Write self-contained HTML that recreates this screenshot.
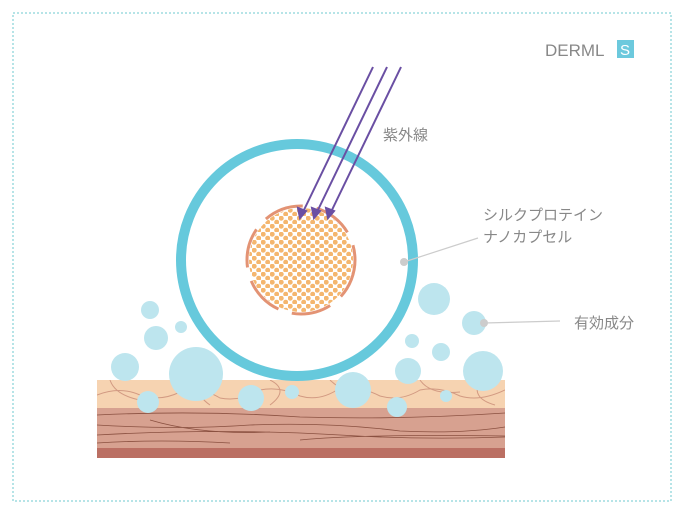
<!DOCTYPE html><html><head><meta charset="utf-8"><style>body{margin:0;background:#fff}svg{display:block}</style></head><body>
<svg width="685" height="516" viewBox="0 0 685 516" xmlns="http://www.w3.org/2000/svg" font-family="Liberation Sans, Noto Sans CJK JP, sans-serif">
<defs><pattern id="d" width="9" height="8" patternUnits="userSpaceOnUse"><circle cx="2.2" cy="2.2" r="2.5" fill="#f4b66e"/><circle cx="6.7" cy="6.2" r="2.5" fill="#f4b66e"/></pattern>
<clipPath id="t"><rect x="97" y="380" width="408" height="28"/></clipPath></defs>
<rect x="13" y="13" width="658" height="488" fill="none" stroke="#6cc9cf" stroke-dasharray="2 2"/>
<text x="545" y="56" font-size="17" fill="#888">DERML</text><rect x="617" y="40" width="17" height="18" fill="#6cc9dd"/><text x="620" y="55" font-size="15" fill="#fff">S</text>
<rect x="97" y="380" width="408" height="28" fill="#f6d3b1"/>
<rect x="97" y="408" width="408" height="40" fill="#d7a190"/>
<rect x="97" y="448" width="408" height="10" fill="#bb6f63"/>
<g fill="none" stroke="#d29a82" stroke-width="1" clip-path="url(#t)"><path d="M97 395 Q120 386 140 395 Q160 402 180 392 Q200 386 220 398 Q240 402 260 390 Q280 386 300 396 Q320 402 340 388 Q360 386 380 396 Q400 402 420 390 Q440 386 460 396 Q480 402 505 390"/><path d="M110 380 Q115 395 140 400 M200 380 Q195 395 210 405 M270 380 Q290 390 270 405 M330 380 Q345 395 370 392 M420 380 Q430 395 460 392 M480 380 Q470 398 495 405"/></g>
<g fill="none" stroke="#8a5040" stroke-width="0.8"><path d="M97 415 Q200 410 300 417 Q400 420 505 413 M97 425 Q180 430 250 425 Q330 422 400 431 Q460 434 505 427 M97 435 Q220 428 340 435 Q420 440 505 437 M97 443 Q160 439 230 443 M300 440 Q360 434 505 436 M150 420 Q200 435 270 432"/></g>
<circle cx="297" cy="260" r="116" fill="#fff" stroke="#66c9dc" stroke-width="10"/>
<circle cx="301" cy="260" r="52" fill="url(#d)"/>
<circle cx="301" cy="260" r="54" fill="none" stroke="#e39374" stroke-width="3" stroke-dasharray="40 14"/>
<g fill="#bde5ee"><circle cx="150" cy="310" r="9"/><circle cx="156" cy="338" r="12"/><circle cx="181" cy="327" r="6"/><circle cx="125" cy="367" r="14"/><circle cx="196" cy="374" r="27"/><circle cx="148" cy="402" r="11"/><circle cx="251" cy="398" r="13"/><circle cx="292" cy="392" r="7"/><circle cx="353" cy="390" r="18"/><circle cx="397" cy="407" r="10"/><circle cx="408" cy="371" r="13"/><circle cx="412" cy="341" r="7"/><circle cx="441" cy="352" r="9"/><circle cx="434" cy="299" r="16"/><circle cx="474" cy="323" r="12"/><circle cx="483" cy="371" r="20"/><circle cx="446" cy="396" r="6"/></g>
<g stroke="#6a4fa3" stroke-width="2" fill="#6a4fa3"><line x1="373" y1="67" x2="303" y2="212"/><line x1="387" y1="67" x2="317" y2="212"/><line x1="401" y1="67" x2="331" y2="212"/>
<path d="M300 218l-2-10 8 3z"/><path d="M314 218l-2-10 8 3z"/><path d="M328 218l-2-10 8 3z"/></g>
<text x="383" y="140" font-size="15" fill="#888">紫外線</text>
<text x="483" y="220" font-size="15" fill="#888">シルクプロテイン</text>
<text x="483" y="242" font-size="15" fill="#888">ナノカプセル</text>
<text x="574" y="328" font-size="15" fill="#888">有効成分</text>
<g stroke="#ccc" stroke-width="1.2"><line x1="404" y1="262" x2="478" y2="238"/><line x1="484" y1="323" x2="560" y2="321"/></g>
<circle cx="404" cy="262" r="4" fill="#ccc"/><circle cx="484" cy="323" r="4" fill="#ccc"/>
</svg></body></html>
